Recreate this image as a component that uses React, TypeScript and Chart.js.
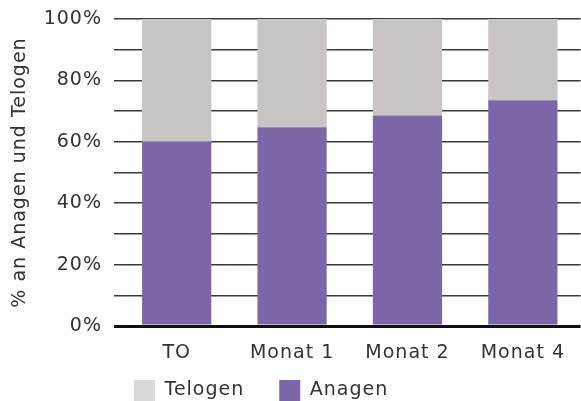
import React, { useEffect, useRef } from "react";
import { Chart, registerables } from "chart.js";

Chart.register(...registerables);

const categories = ["TO", "Monat 1", "Monat 2", "Monat 4"];
const anagenValues = [60, 64.7, 68.6, 73.5];
const telogenValues = [40, 35.3, 31.4, 26.5];
const yTickValues = [0, 20, 40, 60, 80, 100];

const PURPLE = "#7B67A8";
const GREY = "#C8C5C4";
const LEGEND_GREY = "#D9D9D9";
const TEXT = "#333333";
const FONT = "'DejaVu Sans', sans-serif";

const LEGEND_PAD = 35;

const spacing = (chart: any) => {
  if (chart.ctx) chart.ctx.letterSpacing = "1px";
};

const legendShift = {
  id: "legendShift",
  beforeInit: spacing,
  beforeUpdate: spacing,
  beforeLayout: spacing,
  beforeDraw: spacing,
  afterLayout(chart: any) {
    const lg = chart.legend;
    if (!lg) return;
    const dx = 134 - (lg.left + LEGEND_PAD);
    lg.left += dx;
    lg.right += dx;
    const dy = 380 - (lg.top + LEGEND_PAD);
    lg.top += dy;
    lg.bottom = lg.top + 120;
  },
};

export default function App() {
  const ref = useRef<HTMLCanvasElement | null>(null);

  useEffect(() => {
    document.body.style.margin = "0";
    const canvas = ref.current;
    if (!canvas) return;
    const chart = new Chart(canvas, {
      type: "bar",
      data: {
        labels: categories,
        datasets: [
          {
            label: "Anagen",
            data: anagenValues,
            backgroundColor: PURPLE,
            borderWidth: 0,
          },
          {
            label: "Telogen",
            data: telogenValues,
            backgroundColor: GREY,
            borderWidth: 0,
          },
        ],
      },
      options: {
        animation: false,
        responsive: false,
        devicePixelRatio: 1,
        layout: { padding: { top: 19, right: 0, bottom: 0, left: 0 } },
        datasets: {
          bar: { categoryPercentage: 1, barPercentage: 0.6 },
        },
        scales: {
          x: {
            stacked: true,
            grid: { display: false, drawTicks: false },
            border: { display: false },
            ticks: {
              color: TEXT,
              font: { family: FONT, size: 19 },
              padding: 16,
              maxRotation: 0,
            },
            afterFit(scale: any) {
              scale.height = 50;
            },
          },
          y: {
            stacked: true,
            min: 0,
            max: 100,
            border: { display: false },
            grid: {
              drawTicks: true,
              tickLength: 5,
              color: (ctx: any) => (ctx.tick && ctx.tick.value === 0 ? "#111111" : "#3a3a3a"),
              lineWidth: (ctx: any) => (ctx.tick && ctx.tick.value === 0 ? 3 : 1.5),
            },
            ticks: {
              stepSize: 10,
              color: TEXT,
              padding: 12,
              font: { family: FONT, size: 19 },
              callback: (v: any) => (yTickValues.includes(Number(v)) ? v + "%" : ""),
            },
            title: {
              display: true,
              text: "% an Anagen und Telogen",
              color: TEXT,
              font: { family: FONT, size: 19, weight: "normal" },
              padding: { top: 9, bottom: 0 },
            },
            afterFit(scale: any) {
              scale.width = 119;
              scale.paddingTop = 0;
              scale.paddingBottom = 0;
            },
          },
        },
        plugins: {
          legend: {
            position: "bottom",
            align: "start",
            reverse: true,
            maxHeight: 25,
            labels: {
              boxWidth: 21,
              boxHeight: 21,
              padding: LEGEND_PAD,
              color: TEXT,
              font: { family: FONT, size: 19 },
              generateLabels: (ch: any) =>
                ch.data.datasets.map((ds: any, i: number) => ({
                  text: ds.label,
                  fillStyle: ds.label === "Telogen" ? LEGEND_GREY : ds.backgroundColor,
                  strokeStyle: "rgba(0,0,0,0)",
                  lineWidth: 0,
                  fontColor: TEXT,
                  hidden: false,
                  datasetIndex: i,
                })),
            },
          },
          tooltip: { enabled: false },
        },
      },
      plugins: [legendShift],
    } as any);
    return () => chart.destroy();
  }, []);

  return (
    <div style={{ width: 581, height: 401, position: "relative" }}>
      <canvas ref={ref} width={581} height={401} style={{ display: "block" }} />
    </div>
  );
}
